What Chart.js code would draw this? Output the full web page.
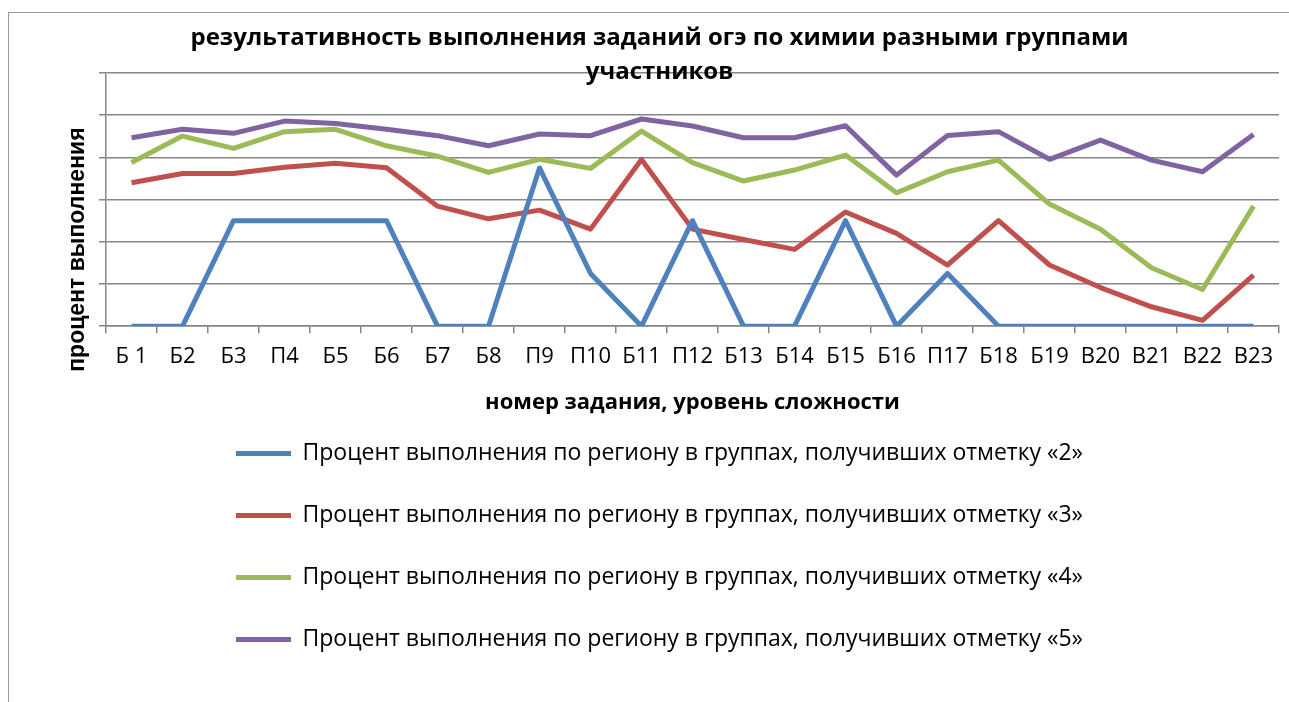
<!DOCTYPE html>
<html>
<head>
<meta charset="utf-8">
<script src="https://cdn.jsdelivr.net/npm/chart.js@4"></script>
<style>
  html, body { margin: 0; padding: 0; background: #fff; }
  #wrap { position: relative; width: 1289px; height: 702px; }
  #frame { position: absolute; left: 8px; top: 12px; right: -2px; bottom: -2px;
           border-top: 1px solid #9a9a9a; border-left: 1px solid #9a9a9a; pointer-events: none; }
</style>
</head>
<body>
<div id="wrap">
  <canvas id="Grafica" width="1289" height="702"></canvas>
  <div id="frame"></div>
</div>
<script>
// номера заданий
var labels = ['Б 1', 'Б2', 'Б3', 'П4', 'Б5', 'Б6', 'Б7', 'Б8', 'П9', 'П10', 'Б11', 'П12',
    'Б13', 'Б14', 'Б15', 'Б16', 'П17', 'Б18', 'Б19', 'В20', 'В21', 'В22', 'В23'];

var otmetka2 = [0, 0, 50, 50, 50, 50, 0, 0, 75, 25, 0, 50, 0, 0, 50, 0, 25, 0, 0, 0, 0, 0, 0];
var otmetka3 = [68, 72.4, 72.4, 75.3, 77.2, 75.1, 56.9, 50.9, 55, 46, 79, 46,
    41.1, 36.4, 54.1, 44, 29, 50, 29, 18.3, 9.2, 2.8, 24.2];
var otmetka4 = [77.6, 90.1, 84.3, 92.2, 93.3, 85.5, 80.6, 72.9, 79.1, 74.8, 92.5, 77.5,
    68.8, 74, 81.1, 63.2, 73.2, 78.7, 57.9, 45.9, 27.7, 17.4, 56.9];
var otmetka5 = [89.3, 93.3, 91.4, 97.2, 96.1, 93.3, 90.3, 85.5, 91.1, 90.3, 98.2, 94.9,
    89.3, 89.3, 95, 71.6, 90.4, 92.2, 79.1, 88.2, 78.7, 73.2, 90.9];

var seriesNames = [
    'Процент выполнения по региону в группах, получивших отметку «2»',
    'Процент выполнения по региону в группах, получивших отметку «3»',
    'Процент выполнения по региону в группах, получивших отметку «4»',
    'Процент выполнения по региону в группах, получивших отметку «5»'
];
var seriesColors = ['#4f81bd', '#c0504d', '#9bbb59', '#8064a2'];

var chartTitle = ['результативность выполнения заданий огэ по химии разными группами', 'участников'];
var xTitle = 'номер задания, уровень сложности';
var yTitle = 'процент выполнения';

var gridColor = '#868686';
var fontFamily = "'Open Sans', 'Noto Sans', sans-serif";

function makeSet(i, data) {
    return {
        label: seriesNames[i],
        data: data,
        borderColor: seriesColors[i],
        backgroundColor: seriesColors[i],
        borderWidth: 5,
        pointRadius: 0,
        tension: 0,
        borderJoinStyle: 'round'
    };
}

// подпись оси Y, смещённая вниз как в Excel
var yTitlePlugin = {
    id: 'yTitle',
    afterDraw: function (chart) {
        var c = chart.ctx;
        var area = chart.chartArea;
        c.save();
        c.translate(78, (area.top + area.bottom) / 2 + 50);
        c.rotate(-Math.PI / 2);
        c.font = "bold 23px 'Liberation Sans', Arial, sans-serif";
        c.fillStyle = '#000';
        c.textAlign = 'center';
        c.textBaseline = 'middle';
        c.fillText(yTitle, 0, 0);
        c.restore();
    }
};

const ctx = document.getElementById('Grafica').getContext('2d');
new Chart(ctx, {
    type: 'line',
    data: {
        labels: labels,
        datasets: [
            makeSet(0, otmetka2),
            makeSet(1, otmetka3),
            makeSet(2, otmetka4),
            makeSet(3, otmetka5)
        ]
    },
    plugins: [yTitlePlugin],
    options: {
        responsive: false,
        animation: false,
        layout: {
            padding: { left: 40, right: 10, top: 0, bottom: 41 }
        },
        plugins: {
            title: {
                display: true,
                text: chartTitle,
                color: '#000',
                font: { family: fontFamily, size: 24, weight: 'bold', lineHeight: 1.4167 },
                padding: { top: 21, bottom: -16 }
            },
            legend: {
                position: 'bottom',
                labels: {
                    color: '#000',
                    font: { family: fontFamily, size: 23 },
                    usePointStyle: true,
                    pointStyle: 'line',
                    pointStyleWidth: 55,
                    padding: 39
                }
            },
            tooltip: { enabled: false }
        },
        scales: {
            x: {
                offset: true,
                grid: {
                    display: true,
                    offset: true,
                    drawOnChartArea: false,
                    color: gridColor,
                    lineWidth: 1.5,
                    tickLength: 7
                },
                border: { color: gridColor, width: 1.5 },
                ticks: {
                    color: '#000',
                    font: { family: fontFamily, size: 22 },
                    padding: 10,
                    maxRotation: 0,
                    autoSkip: false
                },
                title: {
                    display: true,
                    text: xTitle,
                    color: '#000',
                    font: { family: fontFamily, size: 22, weight: 'bold' },
                    padding: { top: 10, bottom: -13 }
                }
            },
            y: {
                min: 0,
                max: 120,
                afterFit: function (scale) {
                    scale.width = 66;
                },
                grid: {
                    color: gridColor,
                    lineWidth: 1.5,
                    tickLength: 7
                },
                border: { color: gridColor, width: 1.5 },
                ticks: {
                    display: false,
                    stepSize: 20
                }
            }
        }
    }
});
</script>
</body>
</html>
